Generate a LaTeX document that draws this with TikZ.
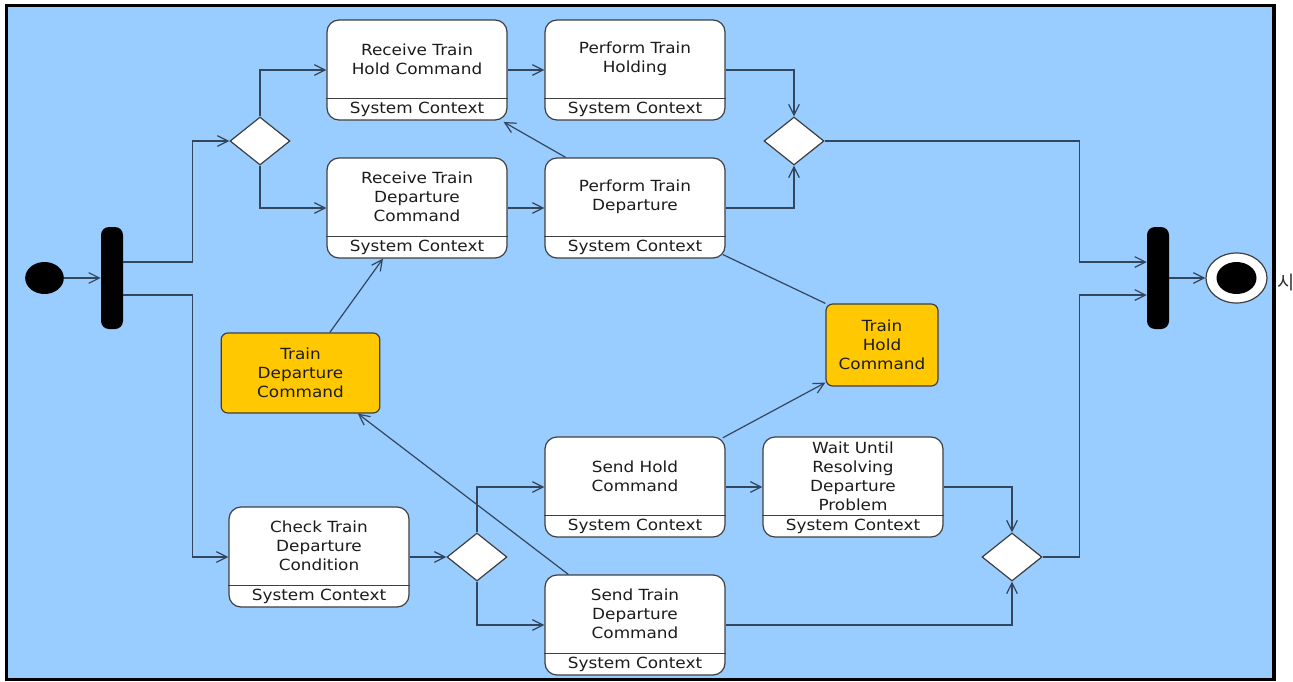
\documentclass[tikz,border=0pt]{standalone}
\usepackage{fontspec}
\setmainfont{DejaVu Sans}[FakeStretch=1.1]
\newfontfamily\krfont{Noto Sans CJK KR}
\usetikzlibrary{arrows.meta,calc,shapes.geometric}
\definecolor{sky}{HTML}{99CCFF}
\definecolor{amber}{HTML}{FFC800}
\definecolor{wire}{HTML}{34465C}
\definecolor{rim}{HTML}{3F3F3F}
\definecolor{ink}{HTML}{1C1C1C}

\begin{document}
\begin{tikzpicture}[x=0.75pt,y=-0.75pt,font=\fontsize{11.5}{14.25}\selectfont,text=ink,
      act/.style={draw=rim,fill=white,line width=0.9pt,rounded corners=9pt,
                  minimum width=135pt,minimum height=75pt,inner sep=0pt},
      obj/.style={draw=rim,fill=amber,line width=0.9pt,rounded corners=5pt,
                  inner sep=0pt,align=center},
      txt/.style={align=center,inner sep=0pt},
      dec/.style={diamond,draw=rim,fill=white,line width=0.9pt,inner sep=0pt,
                  minimum width=45pt,minimum height=36pt},
      bar/.style={fill=black,rounded corners=6pt,minimum width=16.5pt,
                  minimum height=76.5pt,inner sep=0pt},
      flow/.style={wire,line width=0.9pt,-{Straight Barb[length=8pt,width=8pt]}},
      link/.style={wire,line width=0.9pt}]
    \useasboundingbox (0,0) rectangle (1293,682);
    \draw[line width=2.4pt,fill=sky] (6.5,5.5) rectangle (1274,679.5);
    \node[font=\krfont\fontsize{14}{14}\selectfont,anchor=west,inner sep=0pt,text=ink!90] (mark) at (1277,283) {시};
    % start, fork, join, end
    \node[ellipse,fill=black,minimum width=29pt,minimum height=24pt,inner sep=0pt] (start) at (44.5,278) {};
    \node[bar] (fork) at (112,278) {};
    \node[bar] (join) at (1158,278) {};
    \node[ellipse,draw=rim,fill=white,line width=0.9pt,minimum width=45.75pt,
          minimum height=37.5pt,inner sep=0pt] (final) at (1236.5,278) {};
    \node[ellipse,fill=black,minimum width=30pt,minimum height=24pt,inner sep=0pt] (finaldot) at (final) {};
    % actions
    \node[act] (rthc) at (417,70) {};
    \node[act] (pth) at (635,70) {};
    \node[act] (rtdc) at (417,208) {};
    \node[act] (ptd) at (635,208) {};
    \node[act] (chk) at (319,557) {};
    \node[act] (shc) at (635,487) {};
    \node[act] (wait) at (853,487) {};
    \node[act] (stdc) at (635,625) {};
    \node[txt] (rthc-t) at ($(rthc)+(0,-11)$) {Receive Train\\Hold Command};
    \node[txt] (pth-t) at ($(pth)+(0,-11)$) {Perform Train\\Holding};
    \node[txt] (rtdc-t) at ($(rtdc)+(0,-11)$) {Receive Train\\Departure\\Command};
    \node[txt] (ptd-t) at ($(ptd)+(0,-11)$) {Perform Train\\Departure};
    \node[txt] (chk-t) at ($(chk)+(0,-11)$) {Check Train\\Departure\\Condition};
    \node[txt] (shc-t) at ($(shc)+(0,-11)$) {Send Hold\\Command};
    \node[txt] (wait-t) at ($(wait)+(0,-11)$) {Wait Until\\Resolving\\Departure\\Problem};
    \node[txt] (stdc-t) at ($(stdc)+(0,-11)$) {Send Train\\Departure\\Command};
    \foreach \a in {rthc,pth,rtdc,ptd,chk,shc,wait,stdc}{
      \draw[draw=rim,line width=0.9pt] ($(\a.south west)+(0,-22)$) -- ($(\a.south east)+(0,-22)$);
      \node[txt] (\a-ctx) at ($(\a.south)+(0,-11)$) {System Context};}
    % objects
    \node[obj,minimum width=119pt,minimum height=60pt] (tdc) at (300.5,373) {Train\\Departure\\Command};
    \node[obj,minimum width=84pt,minimum height=61.5pt] (thc) at (882,345) {Train\\Hold\\Command};
    % decisions and merges
    \node[dec] (d1) at (260,141) {};
    \node[dec] (d2) at (794,141) {};
    \node[dec] (d3) at (477,557) {};
    \node[dec] (d4) at (1012,557) {};
    % control flow
    \draw[flow] (start) -- (fork);
    \draw[flow] ([yshift=12pt]fork.east) -- ++(69,0) |- (d1.west);
    \draw[flow] ([yshift=-12.75pt]fork.east) -- ++(69,0) |- (chk.west);
    \draw[flow] (d1.north) |- (rthc.west);
    \draw[flow] (d1.south) |- (rtdc.west);
    \draw[flow] (rthc) -- (pth);
    \draw[flow] (rtdc) -- (ptd);
    \draw[flow] (pth.east) -| (d2.north);
    \draw[flow] (ptd.east) -| (d2.south);
    \draw[flow] (d2.east) -- ++(255,0) |- ([yshift=12pt]join.west);
    \draw[flow] (d4.east) -- ++(37,0) |- ([yshift=-12.75pt]join.west);
    \draw[flow] (join) -- (final);
    \draw[flow] (chk.east) -- (d3.west);
    \draw[flow] (d3.north) |- (shc.west);
    \draw[flow] (d3.south) |- (stdc.west);
    \draw[flow] (shc) -- (wait);
    \draw[flow] (wait.east) -| (d4.north);
    \draw[flow] (stdc.east) -| (d4.south);
    % object flow
    \draw[flow] ([xshift=22pt]tdc.north) -- ([xshift=-25.5pt]rtdc.south);
    \draw[flow] ([xshift=-50pt]stdc.north) -- ([xshift=43pt]tdc.south);
    \draw[flow] ([xshift=-52pt]ptd.north) -- ([xshift=-3pt,yshift=-1pt]rthc.south east);
    \draw[link] ([xshift=-2pt,yshift=3pt]ptd.south east) -- (thc.north west);
    \draw[flow] ([xshift=-2pt,yshift=-1pt]shc.north east) -- ([yshift=3pt]thc.south west);
  \end{tikzpicture}
\end{document}
